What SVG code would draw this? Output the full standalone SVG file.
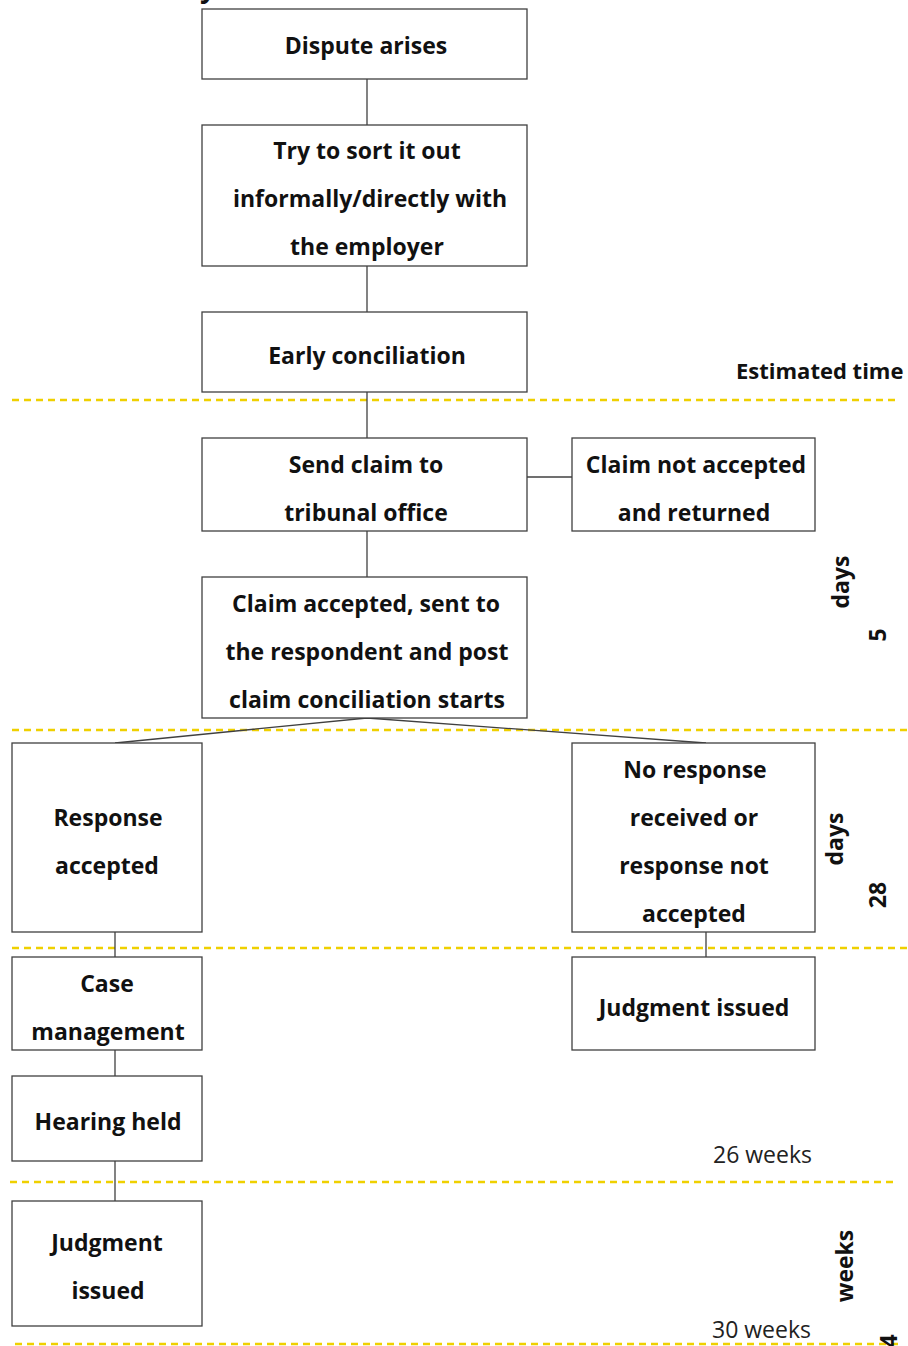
<svg xmlns="http://www.w3.org/2000/svg" width="908" height="1346" viewBox="0 0 908 1346">
<style>
.box{fill:#fff;stroke:#404040;stroke-width:1.3}
.t{font-family:"Open Sans",Lato,sans-serif;font-weight:bold;font-size:23px;fill:#111;text-anchor:middle}
.r{font-family:"Open Sans",Lato,sans-serif;font-size:23px;fill:#222}
.c{stroke:#404040;stroke-width:1.3;fill:none}
.d{stroke:#EFD000;stroke-width:2.5;stroke-dasharray:7 5;fill:none}
</style>
<rect width="908" height="1346" fill="#fff"/>
<text x="200" y="-3" class="t" style="text-anchor:start;font-size:28px">y</text>
<g id="timelines">
<line class="d" x1="12" y1="400" x2="900" y2="400"/>
<line class="d" x1="12" y1="730" x2="908" y2="730"/>
<line class="d" x1="12" y1="948" x2="908" y2="948"/>
<line class="d" x1="10" y1="1182" x2="895" y2="1182"/>
<line class="d" x1="15" y1="1344" x2="900" y2="1344"/>
</g>
<g id="connectors">
<line class="c" x1="367" y1="79" x2="367" y2="125"/>
<line class="c" x1="367" y1="266" x2="367" y2="312"/>
<line class="c" x1="367" y1="392" x2="367" y2="438"/>
<line class="c" x1="367" y1="531" x2="367" y2="577"/>
<line class="c" x1="527" y1="477" x2="572" y2="477"/>
<polyline class="c" points="115,743 367,718 706,743"/>
<line class="c" x1="115" y1="932" x2="115" y2="957"/>
<line class="c" x1="706" y1="932" x2="706" y2="957"/>
<line class="c" x1="115" y1="1050" x2="115" y2="1076"/>
<line class="c" x1="115" y1="1161" x2="115" y2="1201"/>
</g>
<g id="n1"><rect class="box" x="202" y="9" width="325" height="70"/><text class="t" x="366" y="54">Dispute arises</text></g>
<g id="n2"><rect class="box" x="202" y="125" width="325" height="141"/><text class="t" x="367" y="159">Try to sort it out</text><text class="t" x="370" y="207">informally/directly with</text><text class="t" x="367" y="255">the employer</text></g>
<g id="n3"><rect class="box" x="202" y="312" width="325" height="80"/><text class="t" x="367" y="364">Early conciliation</text></g>
<g id="n4"><rect class="box" x="202" y="438" width="325" height="93"/><text class="t" x="366" y="473">Send claim to</text><text class="t" x="366" y="521">tribunal office</text></g>
<g id="n5"><rect class="box" x="572" y="438" width="243" height="93"/><text class="t" x="696" y="473">Claim not accepted</text><text class="t" x="694" y="521">and returned</text></g>
<g id="n6"><rect class="box" x="202" y="577" width="325" height="141"/><text class="t" x="366" y="612">Claim accepted, sent to</text><text class="t" x="367" y="660">the respondent and post</text><text class="t" x="367" y="708">claim conciliation starts</text></g>
<g id="n7"><rect class="box" x="12" y="743" width="190" height="189"/><text class="t" x="108" y="826">Response</text><text class="t" x="107" y="874">accepted</text></g>
<g id="n8"><rect class="box" x="572" y="743" width="243" height="189"/><text class="t" x="695" y="778">No response</text><text class="t" x="694" y="826">received or</text><text class="t" x="694" y="874">response not</text><text class="t" x="694" y="922">accepted</text></g>
<g id="n9"><rect class="box" x="12" y="957" width="190" height="93"/><text class="t" x="107" y="992">Case</text><text class="t" x="108" y="1040">management</text></g>
<g id="n10"><rect class="box" x="572" y="957" width="243" height="93"/><text class="t" x="694" y="1016">Judgment issued</text></g>
<g id="n11"><rect class="box" x="12" y="1076" width="190" height="85"/><text class="t" x="108" y="1130">Hearing held</text></g>
<g id="n12"><rect class="box" x="12" y="1201" width="190" height="125"/><text class="t" x="107" y="1251">Judgment</text><text class="t" x="108" y="1299">issued</text></g>
<g id="labels">
<text class="t" style="font-size:22px;text-anchor:start" x="736" y="379">Estimated time</text>
<text class="t" transform="translate(849,582) rotate(-90)">days</text>
<text class="t" transform="translate(886,635) rotate(-90)">5</text>
<text class="t" transform="translate(843,839) rotate(-90)">days</text>
<text class="t" transform="translate(886,895) rotate(-90)">28</text>
<text class="t" style="font-size:23px" transform="translate(853,1266) rotate(-90)">weeks</text>
<text class="t" style="text-anchor:start;font-size:24px" transform="translate(897,1348) rotate(-90)">4</text>
<text class="r" x="713" y="1163">26 weeks</text>
<text class="r" x="712" y="1338">30 weeks</text>
</g>
</svg>
